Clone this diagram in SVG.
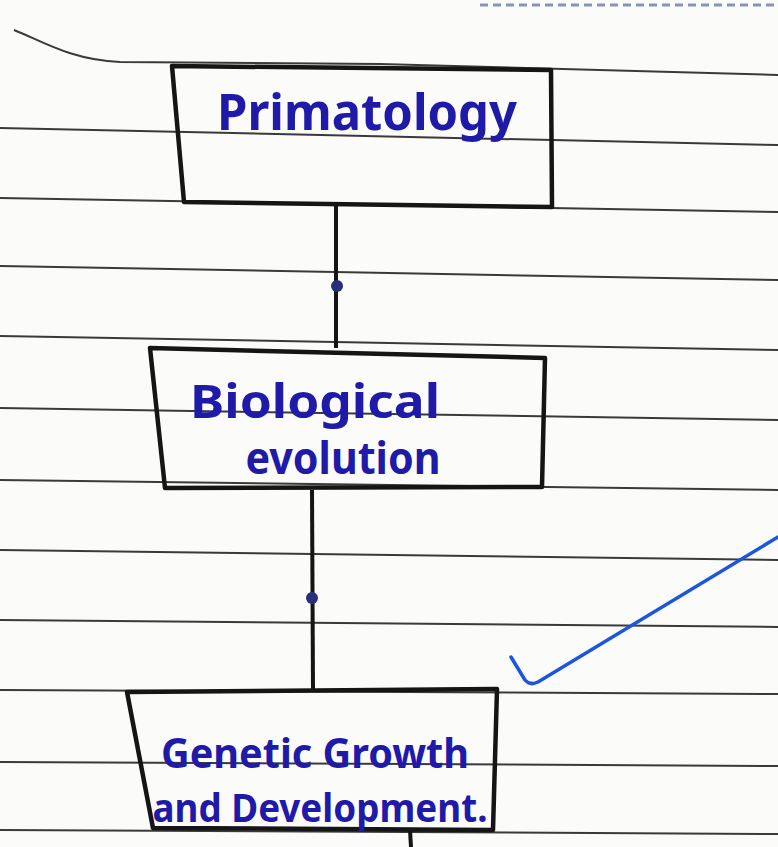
<svg xmlns="http://www.w3.org/2000/svg" width="778" height="847" viewBox="0 0 778 847">
<style>
.rule{fill:none;stroke:#3a3a3a;stroke-width:2}
.box{fill:none;stroke:#151515;stroke-width:4.5;stroke-linejoin:round}
.hand{font-family:"Noto Sans","Liberation Sans",sans-serif;font-weight:700;fill:#1f1aa8}
.conn{stroke:#151515;stroke-width:4;fill:none}
.dot{fill:#26307a}
</style>
<rect width="778" height="847" fill="#fbfbfa"/>
<g id="paper">
<path class="rule" d="M14,30 C40,40 70,60 120,62 L380,64 L778,75"/>
<path class="rule" d="M0,128 L778,145"/>
<path class="rule" d="M0,198 L778,212"/>
<path class="rule" d="M0,266 L778,280"/>
<path class="rule" d="M0,336 L778,350"/>
<path class="rule" d="M0,408 L778,420"/>
<path class="rule" d="M0,480 L778,490"/>
<path class="rule" d="M0,550 L778,560"/>
<path class="rule" d="M0,620 L778,627"/>
<path class="rule" d="M0,690 L778,694"/>
<path class="rule" d="M0,762 L778,766"/>
<path class="rule" d="M0,830 L778,834"/>
<path d="M480,5 L778,5" stroke="#8a94b8" stroke-width="3" stroke-dasharray="8,5"/>
</g>
<g id="connectors">
<path class="conn" d="M336,205 L336,348"/>
<circle class="dot" cx="337" cy="286" r="6"/>
<path class="conn" d="M312,490 L313,690"/>
<circle class="dot" cx="312" cy="598" r="6"/>
<path class="conn" d="M410,830 L411,847"/>
</g>
<g id="node-primatology">
<path class="box" d="M172,66 L551,70 L552,207 L184,202 Z"/>
<text class="hand" x="367" y="130" font-size="50" text-anchor="middle" textLength="300" lengthAdjust="spacingAndGlyphs">Primatology</text>
</g>
<g id="node-biological-evolution">
<path class="box" d="M150,348 L545,358 L542,487 L165,488 Z"/>
<text class="hand" x="315" y="418" font-size="46" text-anchor="middle" textLength="250" lengthAdjust="spacingAndGlyphs">Biological</text>
<text class="hand" x="343" y="474" font-size="44" text-anchor="middle" textLength="195" lengthAdjust="spacingAndGlyphs">evolution</text>
</g>
<g id="node-genetic-growth">
<path class="box" d="M127,692 L497,689 L493,830 L153,828 Z"/>
<text class="hand" x="315" y="768" font-size="42" text-anchor="middle" textLength="308" lengthAdjust="spacingAndGlyphs">Genetic Growth</text>
<text class="hand" x="320" y="822" font-size="40" text-anchor="middle" textLength="335" lengthAdjust="spacingAndGlyphs">and Development.</text>
</g>
<path d="M511,657 L525,680 Q530,686 538,682 L778,537" fill="none" stroke="#1b56dc" stroke-width="3.5" stroke-linecap="round" stroke-linejoin="round"/>
</svg>
